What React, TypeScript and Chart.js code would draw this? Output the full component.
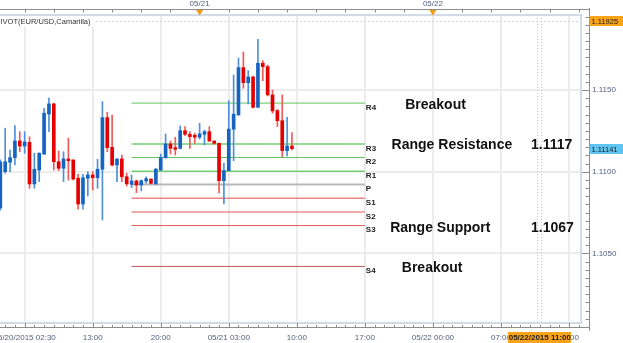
import React, { useEffect, useRef } from 'react';
import { Chart, registerables } from 'chart.js';
Chart.register(...registerables);

// half-hour slot index, 0 = 05/20 13:00
const slots = [-19, -18, -17, -16, -15, -14, -13, -12, -11, -10, -9, -8, -7, -6, -5, -4, -3, -2, -1, 0, 1, 2, 3, 4, 5, 6, 7, 8, 9, 10, 11, 12, 13, 14, 15, 16, 17, 18, 19, 20, 21, 22, 23, 24, 25, 26, 27, 28, 29, 30, 31, 32, 33, 34, 35, 36, 37, 38, 39, 40, 41];
const opens = [1.10778, 1.11000, 1.11058, 1.11086, 1.11188, 1.11157, 1.11180, 1.10925, 1.11010, 1.11108, 1.11353, 1.11415, 1.11061, 1.11021, 1.11078, 1.11072, 1.10960, 1.10802, 1.10960, 1.10980, 1.10963, 1.11015, 1.11331, 1.11149, 1.11041, 1.11078, 1.10969, 1.10923, 1.10943, 1.10919, 1.10943, 1.10955, 1.10925, 1.11010, 1.11086, 1.11170, 1.11147, 1.11143, 1.11251, 1.11229, 1.11223, 1.11211, 1.11229, 1.11245, 1.11188, 1.11174, 1.10945, 1.11006, 1.11260, 1.11347, 1.11637, 1.11545, 1.11580, 1.11394, 1.11664, 1.11643, 1.11470, 1.11374, 1.11312, 1.11129, 1.11157];
const highs = [1.11072, 1.11266, 1.11133, 1.11282, 1.11245, 1.11245, 1.11214, 1.11113, 1.11115, 1.11388, 1.11450, 1.11419, 1.11127, 1.11122, 1.11205, 1.11072, 1.10984, 1.10984, 1.11000, 1.11000, 1.11076, 1.11429, 1.11364, 1.11347, 1.11078, 1.11102, 1.10990, 1.10980, 1.10949, 1.10949, 1.10969, 1.10955, 1.11021, 1.11108, 1.11231, 1.11188, 1.11211, 1.11280, 1.11276, 1.11245, 1.11235, 1.11296, 1.11255, 1.11276, 1.11188, 1.11174, 1.11051, 1.11435, 1.11592, 1.11696, 1.11733, 1.11619, 1.11586, 1.11811, 1.11680, 1.11653, 1.11500, 1.11382, 1.11470, 1.11333, 1.11239];
const lows = [1.10765, 1.10990, 1.11000, 1.11041, 1.11122, 1.11113, 1.10898, 1.10898, 1.10939, 1.11105, 1.11245, 1.11010, 1.11006, 1.10939, 1.10949, 1.10949, 1.10770, 1.10770, 1.10851, 1.10888, 1.10898, 1.10704, 1.11122, 1.11035, 1.10939, 1.10939, 1.10912, 1.10902, 1.10871, 1.10882, 1.10929, 1.10925, 1.10925, 1.11006, 1.11082, 1.11108, 1.11102, 1.11139, 1.11220, 1.11143, 1.11174, 1.11200, 1.11164, 1.11184, 1.11168, 1.10868, 1.10802, 1.11006, 1.11067, 1.11347, 1.11511, 1.11415, 1.11390, 1.11394, 1.11557, 1.11464, 1.11358, 1.11276, 1.11092, 1.11096, 1.11133];
const closes = [1.11059, 1.11061, 1.11086, 1.11188, 1.11157, 1.11182, 1.10925, 1.11015, 1.11113, 1.11358, 1.11415, 1.11061, 1.11021, 1.11078, 1.11067, 1.10955, 1.10802, 1.10963, 1.10980, 1.10963, 1.11015, 1.11331, 1.11147, 1.11041, 1.11078, 1.10969, 1.10925, 1.10943, 1.10919, 1.10945, 1.10957, 1.10929, 1.11015, 1.11086, 1.11170, 1.11143, 1.11137, 1.11251, 1.11229, 1.11214, 1.11211, 1.11231, 1.11245, 1.11188, 1.11174, 1.10945, 1.11006, 1.11261, 1.11352, 1.11637, 1.11545, 1.11580, 1.11394, 1.11664, 1.11643, 1.11470, 1.11372, 1.11312, 1.11129, 1.11157, 1.11141];

// Camarilla pivot levels
const pivotNames = ['R4', 'R3', 'R2', 'R1', 'P', 'S1', 'S2', 'S3', 'S4'];
const pivotValues = [1.1142, 1.1117, 1.11087, 1.11003, 1.10922, 1.10837, 1.10753, 1.1067, 1.1042];
const pivotFrom = 8;
const pivotTo = 56;

// annotations (text, slot of left edge, price of text centre)
const noteTexts = ['Breakout', 'Range Resistance', '1.1117', 'Range Support', '1.1067', 'Breakout'];
const noteSlots = [64.3, 61.5, 90.2, 61.2, 90.2, 63.6];
const notePrices = [1.11408, 1.11164, 1.11164, 1.10653, 1.10653, 1.1041];

// axis labels
const bottomLabelSlots = [-14, 0, 14, 28, 42, 56, 70, 84, 98];
const bottomLabels = ['05/20/2015 02:30', '13:00', '20:00', '05/21 03:00', '10:00', '17:00', '05/22 00:00', '07:00', '14:00'];
const topLabelSlots = [22, 70];
const topLabels = ['05/21', '05/22'];
const priceLabelValues = [1.105, 1.11, 1.115];

const highMark = 1.11925;
const lastPrice = 1.11141;
const nowSlot = 92;
const nowLabel = '05/22/2015 11:00';
const titleText = 'PIVOT(EUR/USD,Camarilla)';

const X_MIN = -19.07;
const X_MAX = 100.47;
const Y_MIN = 1.100735;
const Y_MAX = 1.119593;

// styles
const FONT = '"Liberation Sans", Arial, sans-serif';
const AXIS_TEXT = '#55617f';
const UP = '#1763c2';
const DOWN = '#e40000';
const UP_WICK = '#4f8fdc';
const DOWN_WICK = '#f05a5a';
const pivotColors = ['#5cc45c', '#72d072', '#5cc45c', '#72d072', '#b8b8b8', '#ee8585', '#e05a5a', '#e05a5a', '#c25555'];
const pivotWidths = [1, 1.5, 1, 1.5, 2, 1.5, 1, 1, 1];

const isMajorY = (v: number) => Math.round(v * 10000) % 50 === 0;

const decorPlugin = {
  id: 'decor',
  beforeDatasetsDraw(chart: any) {
    const { ctx, chartArea: a, scales } = chart;
    const xs = scales.x;
    const ys = scales.y;
    ctx.save();
    ctx.lineWidth = 1;
    ctx.strokeStyle = '#d6d6d6';
    ctx.setLineDash([2, 2]);
    const yh = Math.round(ys.getPixelForValue(highMark)) + 0.5;
    ctx.beginPath();
    ctx.moveTo(a.left, yh);
    ctx.lineTo(a.right, yh);
    ctx.stroke();
    ctx.setLineDash([1, 2]);
    ctx.strokeStyle = '#c6c6c6';
    const xc = xs.getPixelForValue(nowSlot);
    for (const dx of [-2.5, 1]) {
      const px = Math.round(xc + dx) + 0.5;
      ctx.beginPath();
      ctx.moveTo(px, a.top);
      ctx.lineTo(px, a.bottom);
      ctx.stroke();
    }
    ctx.restore();
  },
  afterDraw(chart: any) {
    const { ctx, chartArea: a, scales, width } = chart;
    const xs = scales.x;
    const xt = scales.x2;
    const ys = scales.y;
    ctx.save();
    ctx.setLineDash([]);

    // plot frame
    ctx.strokeStyle = '#d3dbe6';
    ctx.lineWidth = 2;
    ctx.beginPath();
    ctx.moveTo(a.left, a.top);
    ctx.lineTo(a.right, a.top);
    ctx.lineTo(a.right, a.bottom);
    ctx.lineTo(a.left, a.bottom);
    ctx.stroke();

    // axis lines and ticks
    ctx.strokeStyle = '#8c8c8c';
    ctx.lineWidth = 1;
    const axR = Math.round(a.right) + 8.5;
    const axB = Math.round(a.bottom) + 4.5;
    const axT = 9.5;
    ctx.beginPath();
    ctx.moveTo(axR, 8);
    ctx.lineTo(axR, a.bottom + 8);
    ctx.moveTo(a.left, axB);
    ctx.lineTo(axR, axB);
    ctx.moveTo(a.left, axT);
    ctx.lineTo(axR, axT);
    for (const t of ys.ticks) {
      const py = Math.round(ys.getPixelForValue(t.value)) + 0.5;
      if (py < a.top || py > a.bottom) continue;
      ctx.moveTo(isMajorY(t.value) ? a.right + 1 : axR - 4, py);
      ctx.lineTo(axR, py);
    }
    for (const t of xs.ticks) {
      const px = Math.round(xs.getPixelForValue(t.value)) + 0.5;
      if (px < a.left || px > a.right) continue;
      const major = bottomLabelSlots.includes(t.value);
      ctx.moveTo(px, major ? a.bottom : axB - 2.5);
      ctx.lineTo(px, axB);
    }
    for (const t of xt.ticks) {
      const px = Math.round(xt.getPixelForValue(t.value)) + 0.5;
      if (px < a.left || px > a.right) continue;
      ctx.moveTo(px, axT);
      ctx.lineTo(px, axT + 3);
    }
    ctx.stroke();

    // orange day markers on the top axis
    ctx.fillStyle = '#f59b12';
    for (const v of topLabelSlots) {
      const px = xt.getPixelForValue(v);
      ctx.beginPath();
      ctx.moveTo(px - 3.5, 10);
      ctx.lineTo(px + 3.5, 10);
      ctx.lineTo(px, 15.5);
      ctx.closePath();
      ctx.fill();
    }

    // pivot level names
    ctx.fillStyle = '#222';
    ctx.font = 'bold 8px ' + FONT;
    ctx.textBaseline = 'top';
    ctx.textAlign = 'left';
    const lx = xs.getPixelForValue(pivotTo) + 1;
    pivotNames.forEach((n, i) => {
      ctx.fillText(n, lx, ys.getPixelForValue(pivotValues[i]) + 0.5);
    });

    // annotations
    ctx.fillStyle = '#111';
    ctx.font = 'bold 14px ' + FONT;
    ctx.textBaseline = 'middle';
    noteTexts.forEach((n, i) => {
      ctx.fillText(n, xs.getPixelForValue(noteSlots[i]), ys.getPixelForValue(notePrices[i]));
    });

    // title
    ctx.font = '7.5px ' + FONT;
    const tw = ctx.measureText(titleText).width;
    ctx.fillStyle = '#fff';
    ctx.fillRect(a.left, a.top + 2, tw, 10);
    ctx.fillStyle = '#333';
    ctx.textBaseline = 'middle';
    ctx.fillText(titleText, a.left - 4.5, 21.5);

    // price tags
    const tag = (value: number, bg: string) => {
      const py = ys.getPixelForValue(value);
      ctx.fillStyle = bg;
      ctx.fillRect(axR, Math.round(py) - 5, width - axR, 10);
      ctx.fillStyle = '#222';
      ctx.font = '7.5px ' + FONT;
      ctx.textAlign = 'left';
      ctx.textBaseline = 'middle';
      ctx.fillText(value.toFixed(5), axR + 2, Math.round(py) + 0.5);
    };
    tag(highMark, '#f9a31b');
    tag(lastPrice, '#5ec4f2');

    // time tag
    const nx = xs.getPixelForValue(nowSlot);
    ctx.font = 'bold 8px ' + FONT;
    const nw = ctx.measureText(nowLabel).width + 1;
    ctx.fillStyle = '#f9a31b';
    ctx.fillRect(Math.round(nx - nw / 2), 332, Math.round(nw), 11);
    ctx.fillStyle = '#222';
    ctx.textAlign = 'center';
    ctx.textBaseline = 'middle';
    ctx.fillText(nowLabel, nx, 338);
    ctx.restore();
  },
};

export default function App() {
  const ref = useRef<HTMLCanvasElement>(null);
  useEffect(() => {
    document.body.style.margin = '0';
    const wicks = slots.map((s, i) => ({ x: s, y: [lows[i], highs[i]] }));
    const bodies = slots.map((s, i) => ({ x: s, y: [opens[i], closes[i]] }));
    const up = slots.map((_, i) => closes[i] >= opens[i]);
    const pivotSets = pivotValues.map((v, i) => ({
      type: 'line' as const,
      data: [{ x: pivotFrom, y: v }, { x: pivotTo, y: v }],
      borderColor: pivotColors[i],
      borderWidth: pivotWidths[i],
      pointRadius: 0,
      fill: false,
      order: 10,
      xAxisID: 'x',
      yAxisID: 'y',
    }));
    const hourTicks: number[] = [];
    for (let v = -18; v <= 100; v += 2) hourTicks.push(v);
    const threeHourTicks: number[] = [];
    for (let v = -14; v <= 100; v += 6) threeHourTicks.push(v);
    const priceTicks: number[] = [];
    for (let k = 0; k <= 40; k++) {
      const v = Math.round((1.1 + k * 0.0005) * 10000) / 10000;
      if (v >= Y_MIN && v <= Y_MAX) priceTicks.push(v);
    }
    const majorX = (v: number) => bottomLabelSlots.includes(v);

    const chart = new Chart(ref.current as HTMLCanvasElement, {
      type: 'bar',
      data: {
        datasets: [
          {
            type: 'bar',
            data: bodies as any,
            backgroundColor: up.map((u) => (u ? UP : DOWN)),
            borderWidth: 0,
            barThickness: 3,
            minBarLength: 1.5,
            grouped: false,
            order: 1,
            xAxisID: 'x',
            yAxisID: 'y',
          },
          {
            type: 'bar',
            data: wicks as any,
            backgroundColor: up.map((u) => (u ? UP_WICK : DOWN_WICK)),
            borderWidth: 0,
            barThickness: 1,
            grouped: false,
            order: 2,
            xAxisID: 'x',
            yAxisID: 'y',
          },
          ...pivotSets,
        ] as any,
      },
      options: {
        responsive: false,
        animation: false,
        devicePixelRatio: 1,
        events: [],
        layout: { padding: 0 },
        plugins: { legend: { display: false }, tooltip: { enabled: false } },
        scales: {
          x: {
            type: 'linear',
            position: 'bottom',
            min: X_MIN,
            max: X_MAX,
            offset: false,
            afterBuildTicks: (s: any) => {
              s.ticks = hourTicks.map((v) => ({ value: v }));
            },
            afterFit: (s: any) => {
              s.height = 20;
              s.paddingLeft = 0;
              s.paddingRight = 0;
            },
            border: { display: false },
            grid: {
              offset: false,
              drawTicks: false,
              color: (c: any) => (c.tick && majorX(c.tick.value) ? '#ececec' : 'rgba(0,0,0,0)'),
              lineWidth: 2,
            },
            ticks: {
              autoSkip: false,
              maxRotation: 0,
              minRotation: 0,
              padding: 10,
              color: AXIS_TEXT,
              font: { family: FONT, size: 8 },
              callback: (v: any) => {
                const i = bottomLabelSlots.indexOf(v);
                return i >= 0 ? bottomLabels[i] : '';
              },
            },
          },
          x2: {
            type: 'linear',
            position: 'top',
            min: X_MIN,
            max: X_MAX,
            offset: false,
            afterBuildTicks: (s: any) => {
              s.ticks = threeHourTicks.map((v) => ({ value: v }));
            },
            afterFit: (s: any) => {
              s.height = 15;
              s.paddingLeft = 0;
              s.paddingRight = 0;
            },
            border: { display: false },
            grid: { display: true, drawOnChartArea: false, drawTicks: false },
            ticks: {
              autoSkip: false,
              maxRotation: 0,
              minRotation: 0,
              padding: 6,
              color: AXIS_TEXT,
              font: { family: FONT, size: 8 },
              callback: (v: any) => {
                const i = topLabelSlots.indexOf(v);
                return i >= 0 ? topLabels[i] : '';
              },
            },
          },
          y: {
            type: 'linear',
            position: 'right',
            min: Y_MIN,
            max: Y_MAX,
            beginAtZero: false,
            afterBuildTicks: (s: any) => {
              s.ticks = priceTicks.map((v) => ({ value: v }));
            },
            afterFit: (s: any) => {
              s.width = 42;
              s.paddingTop = 0;
              s.paddingBottom = 0;
            },
            border: { display: false },
            grid: {
              drawTicks: false,
              color: (c: any) => (c.tick && isMajorY(c.tick.value) ? '#ececec' : 'rgba(0,0,0,0)'),
              lineWidth: 2,
            },
            ticks: {
              autoSkip: false,
              padding: 11,
              color: AXIS_TEXT,
              font: { family: FONT, size: 8 },
              callback: (v: any) => {
                const hit = priceLabelValues.find((p) => Math.abs(p - v) < 1e-7);
                return hit !== undefined ? hit.toFixed(4) : '';
              },
            },
          },
        },
      } as any,
      plugins: [decorPlugin],
    });
    return () => chart.destroy();
  }, []);
  return (
    <div style={{ width: 623, height: 343 }}>
      <canvas ref={ref} width={623} height={343} style={{ display: 'block' }} />
    </div>
  );
}
